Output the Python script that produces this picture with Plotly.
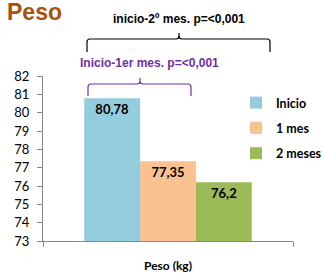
import plotly.graph_objects as go

categories = ["Peso (kg)"]
series_names = ["Inicio", "1 mes", "2 meses"]
series_values = [80.78, 77.35, 76.2]
series_labels = ["80,78", "77,35", "76,2"]
colors = ["#93CDDD", "#FAC191", "#9BBB59"]
y_ticks = [73, 74, 75, 76, 77, 78, 79, 80, 81, 82]

W, H = 324, 275
L, R, T, B = 43, 31, 76, 34
PW, PH = W - L - R, H - T - B

def px(x):
    return (x - L) / PW

def py(y):
    return (H - B - y) / PH

fig = go.Figure()
for name, val, lab, col in zip(series_names, series_values, series_labels, colors):
    fig.add_trace(go.Bar(
        x=categories, y=[val], name=name, legendgroup=name,
        marker=dict(color=col, line=dict(width=0)),
        text=[lab], textposition="inside", insidetextanchor="end", textangle=0,
        textfont=dict(family="Lato", size=13, color="#000000", weight="bold"),
        cliponaxis=True,
    ))

def bracket(x0, x1, xc, yline, yend, ytip, color):
    r = 3
    p = (f"M{px(x0)},{py(yend)} L{px(x0)},{py(yline + r)} "
         f"Q{px(x0)},{py(yline)} {px(x0 + r)},{py(yline)} "
         f"L{px(xc - r)},{py(yline)} Q{px(xc)},{py(yline)} {px(xc)},{py(yline - r)} "
         f"L{px(xc)},{py(ytip)} L{px(xc)},{py(yline - r)} "
         f"Q{px(xc)},{py(yline)} {px(xc + r)},{py(yline)} "
         f"L{px(x1 - r)},{py(yline)} Q{px(x1)},{py(yline)} {px(x1)},{py(yline + r)} "
         f"L{px(x1)},{py(yend)}")
    return dict(type="path", path=p, xref="paper", yref="paper",
                line=dict(color=color, width=1.2))

shapes = [
    bracket(87, 270, 179, 39, 52, 33, "#000000"),
    bracket(88, 191, 140, 84, 96, 78, "#7030A0"),
]

annotations = [
    dict(text="<b>Peso</b>", x=px(5), y=py(0), xref="paper", yref="paper",
         xanchor="left", yanchor="top", showarrow=False, yshift=3,
         font=dict(family="Liberation Sans", size=23, color="#A5530F")),
    dict(text="<b>inicio-2º mes. p=<0,001</b>", x=px(179), y=py(19), xref="paper", yref="paper",
         xanchor="center", yanchor="middle", showarrow=False,
         font=dict(family="Liberation Sans", size=12, color="#000000")),
    dict(text="<b>Inicio-1er mes. p=<0,001</b>", x=px(149), y=py(63), xref="paper", yref="paper",
         xanchor="center", yanchor="middle", showarrow=False,
         font=dict(family="Liberation Sans", size=12, color="#7030A0")),
]

fig.update_layout(
    width=W, height=H,
    margin=dict(l=L, r=R, t=T, b=B, pad=0, autoexpand=False),
    paper_bgcolor="white", plot_bgcolor="white",
    barmode="group", bargap=0.33, bargroupgap=0,
    showlegend=True,
    legend=dict(x=px(236), y=py(88), xanchor="left", yanchor="top",
                font=dict(family="Lato", size=12.5, color="#000000", weight="bold"),
                itemwidth=30, tracegroupgap=6, traceorder="grouped",
                bgcolor="rgba(0,0,0,0)"),
    shapes=shapes, annotations=annotations,
    xaxis=dict(type="category", showline=True, linecolor="#868686", linewidth=1,
               ticks="outside", tickson="boundaries", ticklen=5, tickcolor="#868686",
               ticklabelstandoff=14, automargin=False,
               tickfont=dict(family="Lato", size=12, color="#000000", weight="bold"),
               showgrid=False, zeroline=False),
    yaxis=dict(range=[73, 82], tickvals=y_ticks, showline=True, linecolor="#868686",
               linewidth=1, ticks="outside", ticklen=5, tickcolor="#868686",
               ticklabelstandoff=5, automargin=False,
               tickfont=dict(family="Lato", size=13, color="#000000"),
               showgrid=False, zeroline=False),
)

fig.write_html(
    "out.html",
    config={"displayModeBar": False},
    post_script="document.body.style.margin='0';document.body.style.padding='0';document.body.style.overflow='hidden';",
)
